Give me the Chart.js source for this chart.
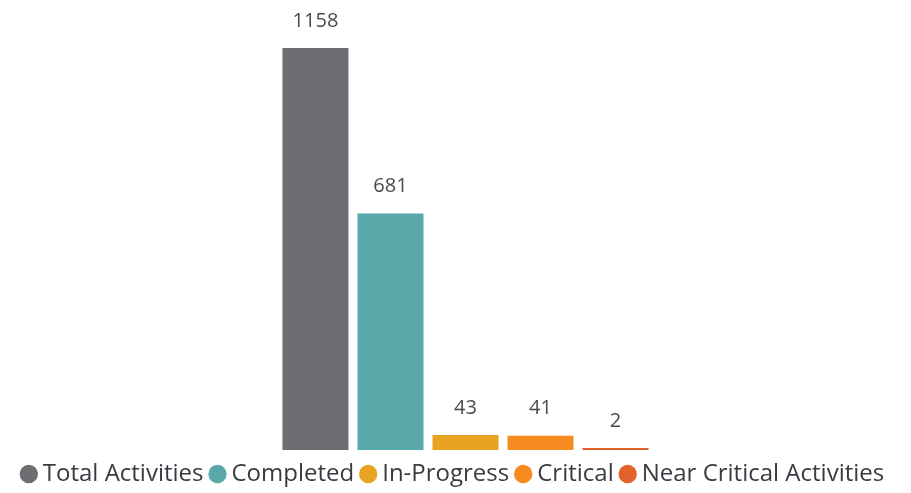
<!DOCTYPE html>
<html>
<head>
<meta charset="utf-8">
<script src="https://cdn.jsdelivr.net/npm/chart.js@4"></script>
<style>
  html, body { margin: 0; padding: 0; background: #fff; }
  #wrap { width: 911px; height: 493px; position: relative; }
</style>
</head>
<body>
<div id="wrap"><canvas id="activityChart"></canvas></div>
<script>
const seriesNames = ['Total Activities', 'Completed', 'In-Progress', 'Critical', 'Near Critical Activities'];
const seriesValues = [1158, 681, 43, 41, 2];
const seriesColors = ['#6d6d72', '#59a8aa', '#e8a321', '#f68b1f', '#e2622c'];

// draws the value above every bar
const valueLabels = {
  id: 'valueLabels',
  afterDatasetsDraw(chart) {
    const ctx = chart.ctx;
    ctx.save();
    ctx.font = '20px "Open Sans", sans-serif';
    ctx.fillStyle = '#4a4a4f';
    ctx.textAlign = 'center';
    ctx.textBaseline = 'middle';
    chart.data.datasets.forEach((ds, i) => {
      const bar = chart.getDatasetMeta(i).data[0];
      ctx.fillText(ds.data[0], bar.x, bar.y - 27);
    });
    ctx.restore();
  }
};

const ctx = document.getElementById('activityChart').getContext('2d');
const chart = new Chart(ctx, {
  type: 'bar',
  data: {
    labels: [''],
    datasets: seriesNames.map((name, i) => ({
      label: name,
      data: [seriesValues[i]],
      backgroundColor: seriesColors[i],
      borderWidth: 0,
      minBarLength: 2,
      categoryPercentage: 0.421,
      barPercentage: 0.88
    }))
  },
  options: {
    responsive: true,
    maintainAspectRatio: false,
    animation: false,
    layout: { padding: { left: 0, right: 0, top: 48, bottom: -3 } },
    scales: {
      x: { display: false },
      y: {
        min: 0,
        max: 1158,
        grid: { display: false },
        border: { display: false },
        ticks: { display: false },
        // invisible axis, only used to push the bars a bit to the right
        afterFit(scale) { scale.width = 20; }
      }
    },
    plugins: {
      tooltip: { enabled: false },
      legend: {
        position: 'bottom',
        labels: {
          usePointStyle: true,
          pointStyle: 'circle',
          boxWidth: 4,
          boxHeight: 13,
          padding: 12,
          color: '#3a3a42',
          font: { family: '"Open Sans", sans-serif', size: 24, lineHeight: 1 }
        }
      }
    }
  },
  plugins: [valueLabels]
});
</script>
</body>
</html>
